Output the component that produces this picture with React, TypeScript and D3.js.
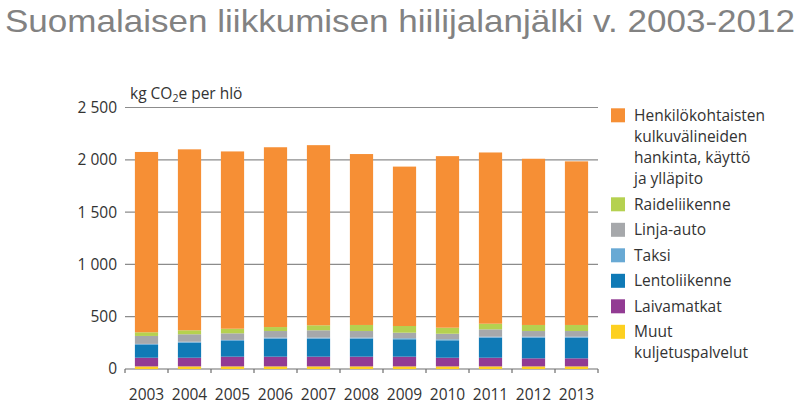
import React from 'react';
import * as d3 from 'd3';

const years = ['2003', '2004', '2005', '2006', '2007', '2008', '2009', '2010', '2011', '2012', '2013'];

// kg CO2e per person, per category
const muut = [25, 25, 25, 25, 25, 25, 25, 25, 25, 25, 25];
const laiva = [83, 83, 93, 93, 93, 93, 93, 83, 83, 77, 77];
const lento = [122, 143, 150, 172, 172, 172, 166, 166, 191, 197, 197];
const taksi = [10, 10, 10, 10, 10, 10, 10, 10, 10, 10, 10];
const linja = [76, 71, 63, 63, 70, 63, 53, 53, 70, 54, 54];
const raide = [35, 38, 44, 38, 48, 58, 64, 58, 54, 58, 58];
const henkilo = [1724, 1730, 1695, 1719, 1722, 1634, 1524, 1640, 1637, 1589, 1564];

const yTicks = [0, 500, 1000, 1500, 2000, 2500];

const series = [
  { key: 'muut', values: muut, color: '#fdd020', label: ['Muut', 'kuljetuspalvelut'] },
  { key: 'laiva', values: laiva, color: '#923b93', label: ['Laivamatkat'] },
  { key: 'lento', values: lento, color: '#0f7ab6', label: ['Lentoliikenne'] },
  { key: 'taksi', values: taksi, color: '#68a9d4', label: ['Taksi'] },
  { key: 'linja', values: linja, color: '#a6a8ab', label: ['Linja-auto'] },
  { key: 'raide', values: raide, color: '#b5d150', label: ['Raideliikenne'] },
  { key: 'henkilo', values: henkilo, color: '#f68f35', label: ['Henkilökohtaisten', 'kulkuvälineiden', 'hankinta, käyttö', 'ja ylläpito'] },
];

const font = "'Open Sans', 'Noto Sans', sans-serif";

export default function App() {
  const width = 806;
  const height = 414;

  const x = d3.scaleBand().domain(years).range([125, 598]).paddingInner(0.46).paddingOuter(0.23);
  const y = d3.scaleLinear().domain([0, 2500]).range([369, 107.5]);

  const rows = years.map((yr, i) => {
    const row: any = { year: yr };
    series.forEach(s => { row[s.key] = s.values[i]; });
    return row;
  });
  const stacked = d3.stack().keys(series.map(s => s.key))(rows);

  const boundaries = d3.range(years.length + 1).map(i => x.range()[0] + i * x.step());

  // legend, top entry first
  const legendOrder = [...series].reverse();
  let ly = 108.3;
  const legend = legendOrder.map((s, i) => {
    const item = { s, top: ly };
    ly += s.label.length > 1 ? (s.label.length === 4 ? 89 : 0) : 25.5;
    return item;
  });

  return (
    <svg width={width} height={height} style={{ position: 'absolute', left: 0, top: 0, background: '#fff' }}>
      <text x={5} y={32} fontFamily="'Liberation Sans', Arial, sans-serif" fontSize={30.5} fill="#828282"
        textLength={790} lengthAdjust="spacingAndGlyphs">
        Suomalaisen liikkumisen hiilijalanjälki v. 2003-2012
      </text>

      {/* gridlines */}
      {yTicks.map(t => (
        <line key={t} x1={125} x2={598} y1={y(t)} y2={y(t)} stroke={t === 0 ? '#6e6e6e' : '#8c8c8c'} strokeWidth={1.2} />
      ))}
      {boundaries.map((bx, i) => (
        <line key={i} x1={bx} x2={bx} y1={y(0)} y2={y(0) + 4} stroke="#6e6e6e" strokeWidth={1.2} />
      ))}

      {/* bars */}
      {stacked.map((layer, li) => (
        <g key={layer.key} fill={series[li].color}>
          {layer.map((d: any, i) => (
            <rect key={i} x={x(years[i])} y={y(d[1])} width={x.bandwidth()} height={y(d[0]) - y(d[1])} />
          ))}
        </g>
      ))}

      {/* y tick labels */}
      {yTicks.map(t => (
        <text key={t} x={117} y={y(t)} dy="0.35em" textAnchor="end" fontFamily={font} fontSize={15.5} fill="#333">
          {t === 0 ? '0' : d3.format(',')(t).replace(',', ' ')}
        </text>
      ))}

      {/* x labels */}
      {years.map(yr => (
        <text key={yr} x={(x(yr) as number) + x.bandwidth() / 2} y={400} textAnchor="middle" fontFamily={font} fontSize={15.5} fill="#333">
          {yr}
        </text>
      ))}

      <text x={130} y={98.5} fontFamily={font} fontSize={15.5} fill="#333">
        kg CO<tspan fontSize={10.5} dy={3}>2</tspan><tspan dy={-3}>e per hlö</tspan>
      </text>

      {/* legend */}
      {legend.map(({ s, top }) => (
        <g key={s.key}>
          <rect x={611} y={top} width={14} height={14} fill={s.color} />
          {s.label.map((l, j) => (
            <text key={j} x={634} y={top + 12.4 + j * 21} fontFamily={font} fontSize={15.5} fill="#333">{l}</text>
          ))}
        </g>
      ))}
    </svg>
  );
}
